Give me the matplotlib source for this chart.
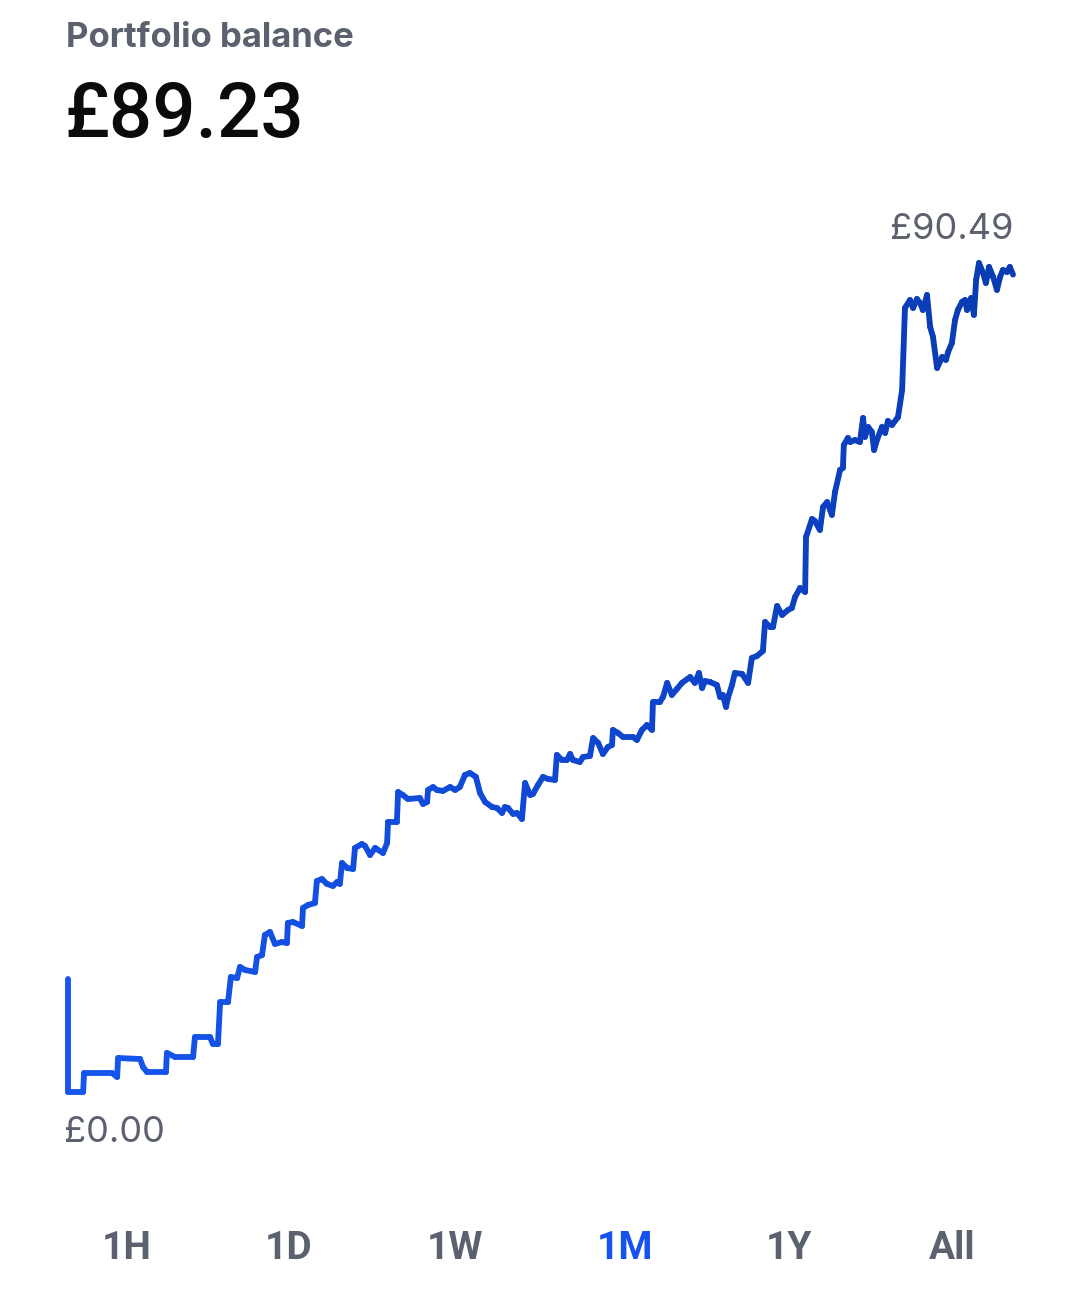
import numpy as np
import matplotlib
matplotlib.use("Agg")
import matplotlib.pyplot as plt
from matplotlib.collections import LineCollection
from matplotlib.colors import LinearSegmentedColormap

# balance over the last month (days since start, GBP)
days = [0, 0, 0.48, 0.51, 1.40, 1.56, 1.59, 2.29, 2.38, 2.51, 3.11, 3.14, 3.40, 3.97, 4.03,
        4.51, 4.60, 4.76, 4.83, 5.08, 5.17, 5.37, 5.46, 5.62, 5.94, 6.00, 6.16, 6.25, 6.41,
        6.57, 6.79, 6.95, 6.98, 7.14, 7.43, 7.46, 7.62, 7.84, 7.90, 8.06, 8.22, 8.41, 8.54,
        8.63, 8.70, 8.86, 9.05, 9.11, 9.33, 9.43, 9.59, 9.75, 10.00, 10.13, 10.16, 10.44,
        10.48, 10.63, 10.79, 11.17, 11.27, 11.40, 11.43, 11.59, 11.71, 11.90, 12.13, 12.29,
        12.44, 12.60, 12.76, 12.95, 13.08, 13.24, 13.46, 13.62, 13.78, 13.87, 13.97, 14.13,
        14.25, 14.41, 14.51, 14.67, 14.76, 14.92, 15.08, 15.24, 15.46, 15.52, 15.68, 15.84,
        15.94, 16.03, 16.25, 16.35, 16.57, 16.67, 16.83, 16.98, 17.14, 17.27, 17.30, 17.46,
        17.62, 17.94, 18.06, 18.22, 18.38, 18.54, 18.57, 18.79, 18.89, 19.02, 19.17, 19.33,
        19.49, 19.75, 19.90, 20.03, 20.13, 20.22, 20.38, 20.60, 20.70, 20.79, 20.89, 20.95,
        21.08, 21.17, 21.40, 21.59, 21.71, 21.87, 22.06, 22.13, 22.29, 22.38, 22.51, 22.67,
        22.86, 22.98, 23.08, 23.24, 23.40, 23.43, 23.62, 23.71, 23.87, 23.97, 24.10, 24.25,
        24.35, 24.51, 24.60, 24.63, 24.76, 24.83, 24.98, 25.14, 25.24, 25.30, 25.40, 25.52,
        25.59, 25.68, 25.84, 25.94, 26.03, 26.16, 26.35, 26.48, 26.57, 26.73, 26.83, 26.95,
        27.05, 27.14, 27.27, 27.37, 27.46, 27.59, 27.75, 27.87, 27.94, 28.06, 28.16, 28.25,
        28.38, 28.48, 28.54, 28.67, 28.76, 28.83, 28.92, 29.05, 29.14, 29.24, 29.37, 29.49,
        29.59, 29.68, 29.81, 29.90, 30.00]

balance = [12.34, 0.00, 0.00, 2.07, 2.07, 1.64, 3.71, 3.60, 2.73, 2.18, 2.18, 4.26, 3.82, 3.82,
           6.00, 6.00, 5.24, 5.24, 9.82, 9.82, 12.55, 12.44, 13.65, 13.32, 13.10, 14.74, 14.95,
           17.14, 17.47, 16.16, 16.37, 16.26, 18.45, 18.56, 18.12, 20.09, 20.41, 20.63, 23.03,
           23.25, 22.71, 22.49, 22.92, 22.71, 25.00, 24.45, 24.34, 26.64, 27.07, 26.85, 25.87,
           26.64, 26.09, 27.18, 29.47, 29.47, 32.75, 32.42, 31.98, 32.09, 31.44, 31.66, 32.97,
           33.29, 32.97, 32.86, 33.29, 32.97, 33.29, 34.60, 34.82, 34.39, 32.64, 31.66, 31.11,
           31.00, 30.46, 31.11, 31.00, 30.35, 30.46, 29.80, 33.73, 32.42, 32.53, 33.51, 34.39,
           34.17, 34.06, 36.79, 36.24, 36.24, 36.90, 36.24, 36.02, 36.57, 36.68, 38.64, 38.10,
           36.90, 37.66, 37.88, 39.52, 39.19, 38.75, 38.75, 38.42, 39.52, 40.06, 39.52, 42.57,
           42.57, 43.12, 44.65, 43.34, 43.99, 44.65, 45.30, 44.65, 45.74, 44.10, 44.86, 44.76,
           44.43, 43.12, 43.34, 42.03, 43.01, 44.43, 45.74, 45.63, 44.65, 47.38, 47.59, 48.14,
           51.31, 50.76, 50.76, 53.05, 52.07, 52.62, 52.83, 54.03, 55.02, 54.58, 60.58, 62.55,
           62.33, 61.35, 63.86, 64.40, 62.99, 65.50, 67.90, 68.12, 70.63, 71.39, 70.95, 71.17,
           70.95, 73.57, 71.50, 72.59, 72.05, 70.08, 71.17, 72.59, 71.94, 73.25, 72.81, 73.68,
           76.63, 85.58, 86.45, 85.58, 86.56, 86.13, 85.36, 87.00, 83.51, 82.42, 79.03, 80.23,
           79.91, 80.78, 81.76, 84.27, 85.36, 86.24, 86.45, 85.36, 86.67, 84.82, 88.64, 90.49,
           89.40, 88.31, 90.06, 88.97, 87.55, 88.97, 89.73, 89.51, 90.06, 89.23]

ranges = ["1H", "1D", "1W", "1M", "1Y", "All"]
selected = "1M"

GRAY = "#5b616e"
BLUE = "#1652f0"

W, H = 1080, 1313
fig = plt.figure(figsize=(W / 100, H / 100), dpi=100)
fig.patch.set_facecolor("white")


def fx(px):
    return px / W


def fy(py):
    return 1 - py / H


# chart area: data extents fill the axes exactly
ax = fig.add_axes([fx(68), fy(1092), fx(1013) - fx(68), fy(263) - fy(1092)])
ax.set_xlim(0, 30)
ax.set_ylim(min(balance), max(balance))
ax.axis("off")

x = np.array(days)
y = np.array(balance)
pts = np.column_stack([x, y]).reshape(-1, 1, 2)
segs = np.concatenate([pts[:-1], pts[1:]], axis=1)
cmap = LinearSegmentedColormap.from_list("bal", ["#1656ee", "#1048d4", "#0a3bb2"])
lc = LineCollection(segs, cmap=cmap, linewidths=4.2, capstyle="round", joinstyle="round",
                    clip_on=False)
lc.set_array(x[:-1])
ax.add_collection(lc)

# header
fig.text(fx(66), fy(47), "Portfolio balance", fontsize=25, fontweight="bold",
         family="Inter", color=GRAY, va="baseline", ha="left")
fig.text(fx(64), fy(137), "£" + f"{balance[-1]:.2f}", fontsize=55, fontweight="medium",
         family="Roboto", color="#0a0b0d", va="baseline", ha="left")

# max / min labels
fig.text(fx(1013), fy(239), f"£{max(balance):.2f}", fontsize=26, family="Inter",
         color=GRAY, va="baseline", ha="right")
fig.text(fx(64), fy(1142), f"£{min(balance):.2f}", fontsize=26, family="Inter",
         color=GRAY, va="baseline", ha="left")

# range selector
centers = [127, 289, 455, 625, 789, 952]
for lab, cx in zip(ranges, centers):
    fig.text(fx(cx), fy(1259), lab, fontsize=28, fontweight="bold", family="Roboto",
             color=BLUE if lab == selected else GRAY, va="baseline", ha="center")

fig.savefig("out.png", dpi=100, facecolor="white")
